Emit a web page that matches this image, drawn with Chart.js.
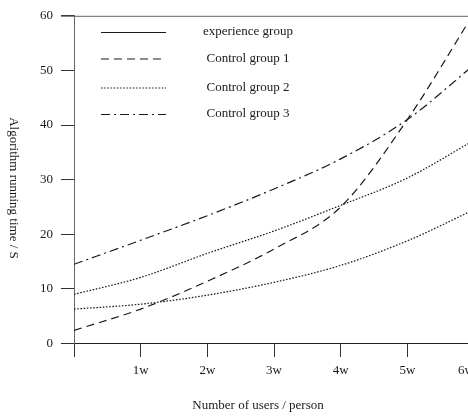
<!DOCTYPE html>
<html>
<head>
<meta charset="utf-8">
<script src="https://cdn.jsdelivr.net/npm/chart.js@4"></script>
<style>
  html, body { margin: 0; padding: 0; background: #fff; overflow: hidden; }
  #wrap { width: 468px; height: 418px; overflow: hidden; position: relative; }
  #box { position: absolute; left: 0; top: 0; width: 480px; height: 418px; }
</style>
</head>
<body>
<div id="wrap"><div id="box"><canvas id="chart"></canvas></div></div>
<script>
// Datos (semanas en el eje x, segundos en el eje y).
const weeks = [0, 1, 2, 3, 4, 5, 6];
const seriesNames = ["experience group", "Control group 1", "Control group 2", "Control group 3"];
const experienceGroup = [6.3, 7.2, 8.85, 11.2, 14.3, 18.8, 24.5];
const controlGroup1 = [2.4, 6.3, 11.4, 17.3, 25.0, 41.0, 60.5];
const controlGroup2 = [9.0, 12.1, 16.5, 20.6, 25.3, 30.3, 37.2];
const controlGroup3 = [14.5, 18.9, 23.4, 28.3, 33.8, 41.0, 51.0];
const yTicks = [0, 10, 20, 30, 40, 50, 60];

const FONT = "Liberation Serif, Times New Roman, serif";
const INK = "#1a1a1a";

function toPoints(values) {
  return weeks.map((w, i) => ({ x: w, y: values[i] }));
}

// Estilo de cada serie (trazo en el gráfico y muestra en la leyenda).
const styles = [
  { dash: [1.6, 1.6], legendDash: [] },
  { dash: [8, 5], legendDash: [8, 5] },
  { dash: [1.6, 1.6], legendDash: [1.6, 1.6] },
  { dash: [9, 4, 2, 4], legendDash: [9, 4, 2, 4] },
];

const allSeries = [experienceGroup, controlGroup1, controlGroup2, controlGroup3];

const datasets = allSeries.map((values, i) => ({
  label: seriesNames[i],
  data: toPoints(values),
  borderColor: INK,
  borderWidth: 1.2,
  borderDash: styles[i].dash,
  pointRadius: 0,
  cubicInterpolationMode: "monotone",
  fill: false,
}));

// Leyenda, marco superior y títulos de los ejes dibujados a mano.
const extras = {
  id: "extras",
  afterDraw(chart) {
    const { ctx, chartArea } = chart;
    ctx.save();

    // Línea superior del marco.
    ctx.strokeStyle = "#666";
    ctx.lineWidth = 1;
    ctx.beginPath();
    ctx.moveTo(chartArea.left - 13, chartArea.top + 0.5);
    ctx.lineTo(chartArea.right, chartArea.top + 0.5);
    ctx.stroke();

    // Leyenda dentro del área del gráfico.
    ctx.font = "13px " + FONT;
    ctx.fillStyle = INK;
    ctx.textAlign = "center";
    ctx.textBaseline = "middle";
    const rows = [32, 58.5, 87.5, 114];
    seriesNames.forEach((name, i) => {
      const y = rows[i];
      ctx.strokeStyle = INK;
      ctx.lineWidth = 1.2;
      ctx.setLineDash(styles[i].legendDash);
      ctx.beginPath();
      ctx.moveTo(101, y + 0.5);
      ctx.lineTo(166, y + 0.5);
      ctx.stroke();
      ctx.setLineDash([]);
      ctx.fillText(name, 248, y);
    });

    // Títulos de los ejes.
    ctx.textAlign = "center";
    ctx.textBaseline = "middle";
    ctx.fillText("Number of users / person", 258, 406);
    ctx.translate(13, 188);
    ctx.rotate(Math.PI / 2);
    ctx.fillText("Algorithm running time / S", 0, 0);

    ctx.restore();
  },
};

const ctx = document.getElementById("chart").getContext("2d");
new Chart(ctx, {
  type: "line",
  data: { datasets: datasets },
  plugins: [extras],
  options: {
    responsive: true,
    maintainAspectRatio: false,
    animation: false,
    events: [],
    layout: { padding: { top: 10, right: 4.5, left: 0, bottom: 0 } },
    plugins: {
      legend: { display: false },
      tooltip: { enabled: false },
    },
    scales: {
      x: {
        type: "linear",
        min: 0,
        max: 6,
        afterFit(scale) { scale.height = 74.5; },
        border: { display: true, color: "#222", width: 1 },
        grid: { drawOnChartArea: false, color: "#333", tickLength: 13.5 },
        ticks: {
          stepSize: 1,
          color: INK,
          font: { family: FONT, size: 13 },
          padding: 6,
          align: "inner",
          maxRotation: 0,
          callback: value => (value === 0 ? "" : value + "w"),
        },
      },
      y: {
        min: 0,
        max: 60,
        afterFit(scale) { scale.width = 74; },
        afterBuildTicks(scale) { scale.ticks = yTicks.map(v => ({ value: v })); },
        border: { display: true, color: "#666", width: 1 },
        grid: { drawOnChartArea: false, color: "#333", tickLength: 13 },
        ticks: {
          color: INK,
          font: { family: FONT, size: 13 },
          padding: 8,
        },
      },
    },
  },
});
</script>
</body>
</html>
